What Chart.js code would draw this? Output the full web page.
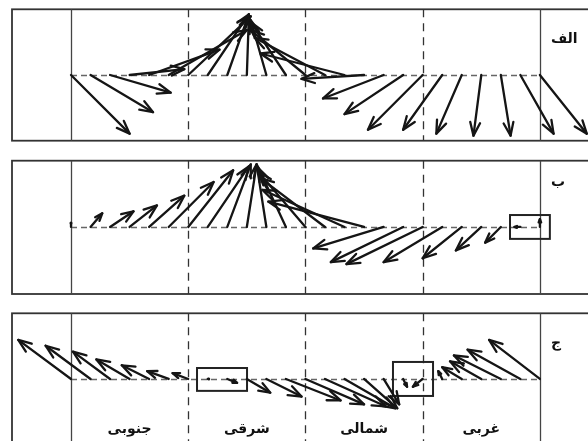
<!DOCTYPE html>
<html><head><meta charset="utf-8">
<script src="https://cdn.jsdelivr.net/npm/chart.js@4.4.1/dist/chart.umd.min.js"></script>
<style>
html,body{margin:0;padding:0;background:#fff;overflow:hidden;}
#wrap{position:relative;width:588px;height:441px;overflow:hidden;background:#fff;}
#wrap canvas{position:absolute;left:0;}
</style></head><body>
<div id="wrap">
<canvas id="pA" width="620" height="150" style="top:0px"></canvas>
<canvas id="pB" width="620" height="150" style="top:150px"></canvas>
<canvas id="pC" width="620" height="150" style="top:300px"></canvas>
</div>
<script>
// Station positions along the section (tails of the vectors)
const stationX = [0,10,20,30,40,50,60,70,80,90,100,110,120,130,140,150,160,170,180,190,200,210,220,230,240];
const sectorBounds = [0, 60, 120, 180, 240];
const sectorCenters = [30, 90, 150, 210];
const sectorLabels = ['جنوبی', 'شرقی', 'شمالی', 'غربی'];
const panelLabels = ['الف', 'ب', 'ج'];

// Panel الف : vector components (east, north)
const uA = [30, 32, 31, 28, 36, 40, 32, 21, 11, 1, -8, -18, -28, -36, -43, -32, -31, -30, -28, -20, -13, -4, 5, 17, 24];
const vA = [-30, -19, -9, 3, 13, 23, 30, 31, 31, 29, 28, 27, 23, 19, 11, -2, -12, -20, -28, -28, -30, -31, -31, -30, -30];

// Panel ب
const uB = [0, 6, 12, 14, 18, 23, 23, 21, 12, 5, -5, -14, -24, -33, -42, -49, -36, -37, -39, -30, -20, -13, -8, -3, 0];
const vB = [2, 7, 8, 11, 16, 23, 29, 31, 32, 32, 32, 30, 28, 25, 19, 13, -11, -18, -19, -18, -16, -12, -8, 0, 4];

// Panel ج
const uC = [-27, -23, -19, -17, -14, -11, -8, 0.5, 5, 12, 18, 28, 30, 31, 26, 17, 8, 2, -5, -2, -10, -16, -24, -27, -26];
const vC = [20, 17, 14, 10, 7, 4, 3, 0, -2, -7, -9, -11, -13, -14, -15, -15, -13, -4, -4, 4, 6, 9, 12, 15, 20];

// Highlighted stations [xFrom, xTo, yFrom, yTo]
const boxesB = [[224.7, 245.1, -6.1, 6.1]];
const boxesC = [[64.5, 90.1, -6.1, 5.6], [164.8, 185.3, -8.7, 8.7]];

const FONT = 'bold 14px "DejaVu Sans"';
const INK = '#151515';

const stickPlot = {
  id: 'stickPlot',
  beforeDatasetsDraw(chart, args, opts) {
    const {ctx, chartArea: a, scales: {x, y}} = chart;
    ctx.save();
    ctx.strokeStyle = '#333';
    ctx.lineWidth = 1.8;
    ctx.strokeRect(a.left, a.top, a.right - a.left, a.bottom - a.top);
    sectorBounds.forEach((b, k) => {
      const px = Math.round(x.getPixelForValue(b)) + 0.5;
      const outer = k === 0 || k === sectorBounds.length - 1;
      ctx.setLineDash(outer ? [] : [8, 6]);
      ctx.lineWidth = 1.3;
      ctx.strokeStyle = outer ? '#444' : '#333';
      ctx.beginPath(); ctx.moveTo(px, a.top); ctx.lineTo(px, a.bottom); ctx.stroke();
    });
    const y0 = Math.round(y.getPixelForValue(0)) + 0.5;
    ctx.setLineDash([6, 4]);
    ctx.strokeStyle = '#666';
    ctx.lineWidth = 1.5;
    ctx.beginPath();
    ctx.moveTo(x.getPixelForValue(sectorBounds[0]), y0);
    ctx.lineTo(x.getPixelForValue(sectorBounds[sectorBounds.length - 1]), y0);
    ctx.stroke();
    ctx.setLineDash([]);
    (opts.boxes || []).forEach(([x1, x2, y1, y2]) => {
      const l = x.getPixelForValue(x1), r = x.getPixelForValue(x2);
      const t = y.getPixelForValue(y2), bt = y.getPixelForValue(y1);
      ctx.strokeStyle = '#222';
      ctx.lineWidth = 2;
      ctx.strokeRect(l, t, r - l, bt - t);
    });
    ctx.restore();
  },
  afterDatasetsDraw(chart, args, opts) {
    const {ctx, chartArea: a, scales: {x}} = chart;
    ctx.save();
    ctx.strokeStyle = INK;
    ctx.lineWidth = 2.3;
    ctx.lineCap = 'round';
    ctx.lineJoin = 'round';
    chart.data.datasets.forEach((ds, i) => {
      const pts = chart.getDatasetMeta(i).data;
      const p0 = pts[0], p1 = pts[1];
      const dx = p1.x - p0.x, dy = p1.y - p0.y;
      const len = Math.hypot(dx, dy);
      if (len < 4) {
        ctx.fillStyle = INK;
        ctx.beginPath(); ctx.arc(p1.x, p1.y, 1.5, 0, Math.PI * 2); ctx.fill();
        return;
      }
      const ang = Math.atan2(dy, dx);
      const h = Math.min(14, len * 0.45);
      const spread = 0.36;
      ctx.beginPath();
      ctx.moveTo(p1.x - h * Math.cos(ang - spread), p1.y - h * Math.sin(ang - spread));
      ctx.lineTo(p1.x, p1.y);
      ctx.lineTo(p1.x - h * Math.cos(ang + spread), p1.y - h * Math.sin(ang + spread));
      ctx.stroke();
    });
    ctx.fillStyle = '#111';
    ctx.font = FONT;
    ctx.textBaseline = 'middle';
    ctx.textAlign = 'left';
    ctx.direction = 'rtl';
    ctx.fillText(opts.label, x.getPixelForValue(sectorBounds[sectorBounds.length - 1]) + 11, a.top + opts.labelDy);
    if (opts.showSectors) {
      ctx.textAlign = 'center';
      sectorLabels.forEach((s, k) => {
        ctx.fillText(s, x.getPixelForValue(sectorCenters[k]), a.top + 116);
      });
    }
    ctx.restore();
  }
};

function makePanel(id, u, v, yRange, pad, label, labelDy, boxes, showSectors) {
  const datasets = stationX.map((sx, k) => ({
    data: [{x: sx, y: 0}, {x: sx + u[k], y: v[k]}],
    showLine: true,
    borderColor: INK,
    borderWidth: 2.3,
    pointRadius: 0,
    borderCapStyle: 'round',
    clip: false
  }));
  new Chart(document.getElementById(id), {
    type: 'scatter',
    data: {datasets},
    options: {
      responsive: false,
      animation: false,
      devicePixelRatio: 1,
      layout: {padding: {left: 12, right: 0, top: pad[0], bottom: pad[1]}},
      scales: {
        x: {type: 'linear', min: -30.2, max: 281.0, display: false},
        y: {type: 'linear', min: yRange[0], max: yRange[1], display: false}
      },
      plugins: {
        legend: {display: false},
        tooltip: {enabled: false},
        stickPlot: {label, labelDy, boxes, showSectors}
      }
    },
    plugins: [stickPlot]
  });
}

makePanel('pA', uA, vA, [-33.6, 33.6], [9.3, 9.3], panelLabels[0], 30, [], false);
makePanel('pB', uB, vB, [-34.3, 33.9], [10.7, 6], panelLabels[1], 22, boxesB, false);
makePanel('pC', uC, vC, [-33.8, 33.6], [13.3, 5], panelLabels[2], 30, boxesC, true);
</script>
</body></html>
